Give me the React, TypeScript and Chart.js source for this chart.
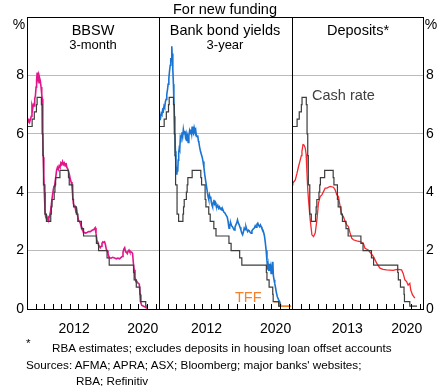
import React, { useEffect, useRef } from "react";
import { Chart, registerables } from "chart.js";

Chart.register(...registerables);

const FONT = "'Liberation Sans', Arial, Helvetica, sans-serif";

// ---- axes ----
const xMin = 2007.0;
const xMax = 2022.4;
const yTickValues = [0, 2, 4, 6, 8, 10];
const yearLabelsLeft = [2012, 2020];
const yearLabelsRight = [2013, 2020];

// ---- cash rate (step changes) ----
const cashDates = [2007.0, 2007.6, 2007.85, 2008.1, 2008.18, 2008.68, 2008.77, 2008.85, 2008.92, 2009.09, 2009.27, 2009.77, 2009.84, 2009.92, 2010.17, 2010.26, 2010.34, 2010.84, 2011.84, 2011.93, 2012.34, 2012.43, 2012.76, 2012.93, 2013.35, 2013.6, 2015.1, 2015.35, 2016.34, 2016.59, 2019.43, 2019.5, 2019.75, 2020.17, 2020.22, 2020.85, 2021.05];
const cashRates = [6.25, 6.5, 6.75, 7.0, 7.25, 7.0, 6.0, 5.25, 4.25, 3.25, 3.0, 3.25, 3.5, 3.75, 4.0, 4.25, 4.5, 4.75, 4.5, 4.25, 3.75, 3.5, 3.25, 3.0, 2.75, 2.5, 2.25, 2.0, 1.75, 1.5, 1.25, 1.0, 0.75, 0.5, 0.25, 0.1, 0.1];
const cashDepositsEnd: [number, number] = [2021.7, 0.1];

// ---- Term Funding Facility ----
const tffDates = [2020.3, 2020.95, 2022.3];
const tffRates = [0.25, 0.1, 0.1];

// ---- BBSW 3-month ----
const bbsw3m: [number, number][] = [
  [2007.0, 6.45], [2007.1, 6.42], [2007.2, 6.48], [2007.3, 6.4], [2007.4, 6.5], [2007.5, 6.6], [2007.58, 6.95], [2007.66, 6.85], [2007.74, 7.0], [2007.82, 6.95], [2007.9, 7.2], [2007.98, 7.3],
  [2008.06, 7.6], [2008.12, 7.85], [2008.19, 8.1], [2008.25, 7.9], [2008.32, 8.0], [2008.4, 7.75], [2008.48, 7.9], [2008.56, 7.8], [2008.64, 7.6], [2008.72, 7.35], [2008.78, 7.2], [2008.84, 6.0], [2008.9, 5.2], [2008.96, 4.6],
  [2009.02, 4.0], [2009.1, 3.4], [2009.17, 3.17], [2009.25, 3.1], [2009.35, 3.05], [2009.45, 3.15], [2009.55, 3.1], [2009.65, 3.2], [2009.75, 3.35], [2009.85, 3.6], [2009.95, 3.85],
  [2010.05, 4.05], [2010.15, 4.2], [2010.25, 4.3], [2010.35, 4.5], [2010.45, 4.75], [2010.55, 4.85], [2010.65, 4.78], [2010.75, 4.9], [2010.85, 4.85], [2010.95, 5.0],
  [2011.05, 4.95], [2011.15, 5.05], [2011.25, 4.95], [2011.35, 5.0], [2011.45, 4.9], [2011.55, 5.0], [2011.65, 4.85], [2011.75, 4.8], [2011.85, 4.7], [2011.95, 4.6],
  [2012.05, 4.45], [2012.15, 4.35], [2012.25, 4.2], [2012.35, 3.8], [2012.42, 3.6], [2012.5, 3.55], [2012.6, 3.5], [2012.7, 3.35], [2012.8, 3.4], [2012.9, 3.2],
  [2013.0, 3.05], [2013.1, 3.0], [2013.2, 2.95], [2013.3, 2.85], [2013.4, 2.8], [2013.5, 2.7], [2013.6, 2.6], [2013.7, 2.62], [2013.85, 2.6],
  [2014.0, 2.62], [2014.2, 2.65], [2014.4, 2.65], [2014.6, 2.7], [2014.8, 2.72], [2014.95, 2.78],
  [2015.05, 2.6], [2015.15, 2.35], [2015.25, 2.3], [2015.35, 2.18], [2015.45, 2.15], [2015.55, 2.1], [2015.65, 2.15], [2015.75, 2.25], [2015.85, 2.3], [2015.95, 2.28],
  [2016.05, 2.3], [2016.15, 2.2], [2016.25, 2.05], [2016.35, 2.0], [2016.45, 1.9], [2016.55, 1.8], [2016.65, 1.75], [2016.8, 1.74],
  [2017.0, 1.77], [2017.2, 1.75], [2017.4, 1.72], [2017.6, 1.74], [2017.8, 1.72], [2017.95, 1.76],
  [2018.1, 1.8], [2018.2, 1.95], [2018.3, 2.05], [2018.4, 2.1], [2018.5, 1.95], [2018.6, 1.95], [2018.7, 1.9], [2018.8, 1.98], [2018.9, 2.02],
  [2019.0, 1.95], [2019.1, 1.95], [2019.2, 1.95], [2019.32, 1.9], [2019.4, 1.6], [2019.5, 1.34], [2019.6, 1.1], [2019.7, 0.94], [2019.8, 0.95], [2019.9, 0.9],
  [2020.0, 0.88], [2020.1, 0.85], [2020.2, 0.5], [2020.29, 0.2], [2020.4, 0.12], [2020.55, 0.1], [2020.7, 0.08], [2020.9, 0.04], [2021.07, 0.02],
];

// ---- Bank bond yields 3-year ----
const bondYields3y: [number, number][] = [
  [2007.02, 6.5], [2007.1, 6.62], [2007.18, 6.55], [2007.26, 6.7], [2007.34, 6.66], [2007.42, 6.82], [2007.5, 6.78], [2007.58, 6.95], [2007.66, 6.9], [2007.74, 7.1], [2007.82, 7.18], [2007.9, 7.35], [2007.98, 7.5],
  [2008.06, 7.7], [2008.14, 7.9], [2008.22, 8.15], [2008.3, 8.35], [2008.36, 8.6], [2008.42, 8.5], [2008.46, 8.85], [2008.5, 9.0], [2008.54, 8.6], [2008.58, 8.75], [2008.62, 8.2], [2008.67, 7.7], [2008.72, 7.2], [2008.78, 6.6], [2008.84, 6.0], [2008.9, 5.4], [2008.96, 4.95],
  [2009.02, 4.7], [2009.07, 4.6], [2009.12, 4.85], [2009.17, 4.7], [2009.22, 5.1], [2009.28, 5.35], [2009.34, 5.5], [2009.4, 5.45], [2009.46, 5.8], [2009.52, 5.7], [2009.58, 5.95], [2009.66, 6.05], [2009.74, 5.9], [2009.82, 6.15], [2009.9, 6.0], [2009.98, 6.1],
  [2010.06, 5.9], [2010.14, 6.0], [2010.22, 5.75], [2010.3, 5.9], [2010.38, 5.7], [2010.46, 5.95], [2010.54, 6.1], [2010.62, 6.0], [2010.7, 6.15], [2010.78, 6.0], [2010.84, 6.25], [2010.92, 6.05],
  [2011.0, 6.0], [2011.08, 6.2], [2011.16, 6.1], [2011.24, 6.15], [2011.32, 5.95], [2011.4, 5.9], [2011.48, 5.95], [2011.56, 5.75], [2011.62, 5.7], [2011.7, 5.55], [2011.8, 5.4], [2011.9, 5.3],
  [2012.0, 5.2], [2012.1, 5.05], [2012.2, 4.85], [2012.3, 4.6], [2012.4, 4.4], [2012.5, 4.2], [2012.6, 4.0], [2012.68, 3.85], [2012.76, 3.75], [2012.84, 3.9], [2012.92, 3.8], [2012.98, 3.85],
  [2013.06, 3.65], [2013.14, 3.55], [2013.2, 3.5], [2013.28, 3.65], [2013.36, 3.74], [2013.44, 3.6], [2013.52, 3.65], [2013.6, 3.55], [2013.7, 3.5], [2013.8, 3.55], [2013.9, 3.45],
  [2014.0, 3.5], [2014.1, 3.42], [2014.2, 3.45], [2014.3, 3.38], [2014.4, 3.4], [2014.5, 3.32], [2014.6, 3.3], [2014.7, 3.25], [2014.8, 3.2], [2014.9, 3.15],
  [2015.0, 3.0], [2015.06, 2.85], [2015.11, 2.77], [2015.18, 2.85], [2015.25, 2.9], [2015.31, 2.94], [2015.4, 2.85], [2015.5, 2.82], [2015.6, 2.76], [2015.7, 2.71], [2015.8, 2.8], [2015.9, 2.88],
  [2016.0, 2.95], [2016.09, 3.05], [2016.18, 2.95], [2016.29, 2.88], [2016.38, 2.8], [2016.48, 2.71], [2016.58, 2.6], [2016.68, 2.54], [2016.78, 2.65], [2016.87, 2.77], [2016.96, 2.72],
  [2017.07, 2.82], [2017.17, 2.72], [2017.27, 2.65], [2017.36, 2.7], [2017.46, 2.68], [2017.56, 2.62], [2017.66, 2.6], [2017.76, 2.68], [2017.86, 2.72], [2017.95, 2.75],
  [2018.04, 2.77], [2018.14, 2.85], [2018.24, 2.8], [2018.34, 2.9], [2018.44, 2.94], [2018.54, 2.86], [2018.64, 2.82], [2018.74, 2.88], [2018.83, 2.82], [2018.92, 2.75],
  [2019.02, 2.71], [2019.12, 2.62], [2019.21, 2.5], [2019.3, 2.3], [2019.41, 2.0], [2019.5, 1.65], [2019.58, 1.35], [2019.64, 1.5], [2019.7, 1.3], [2019.78, 1.55], [2019.85, 1.3], [2019.92, 1.42], [2019.98, 1.22],
  [2020.05, 1.4], [2020.12, 1.3], [2020.18, 1.62], [2020.24, 1.15], [2020.32, 1.0], [2020.4, 0.88], [2020.47, 0.77], [2020.58, 0.58], [2020.7, 0.42], [2020.84, 0.32], [2020.97, 0.25], [2021.09, 0.14],
];

// ---- Deposit rates ----
const deposits: [number, number][] = [
  [2007.0, 4.25], [2007.1, 4.3], [2007.2, 4.35], [2007.39, 4.42], [2007.5, 4.55], [2007.59, 4.65], [2007.77, 4.88], [2007.97, 5.11],
  [2008.1, 5.25], [2008.17, 5.4], [2008.29, 5.63], [2008.38, 5.62], [2008.44, 5.6], [2008.56, 5.51], [2008.66, 5.3], [2008.76, 4.65], [2008.85, 4.1], [2008.94, 3.74],
  [2009.14, 3.05], [2009.34, 2.54], [2009.53, 2.48], [2009.73, 2.6], [2009.93, 3.05],
  [2010.11, 3.63], [2010.31, 3.85], [2010.51, 3.91], [2010.7, 4.02], [2010.9, 4.14],
  [2011.1, 4.14], [2011.48, 4.2], [2011.87, 4.17], [2012.07, 4.08], [2012.27, 3.91], [2012.46, 3.85], [2012.66, 3.51], [2012.85, 3.22],
  [2013.04, 3.17], [2013.24, 3.0], [2013.44, 2.88], [2013.63, 2.82], [2013.83, 2.6], [2014.03, 2.42], [2014.21, 2.37], [2014.6, 2.33],
  [2015.0, 2.31], [2015.38, 2.25], [2015.58, 2.08], [2015.97, 2.02], [2016.56, 1.8], [2016.95, 1.57], [2017.34, 1.4], [2017.7, 1.36],
  [2018.12, 1.34], [2018.5, 1.33], [2018.9, 1.32], [2019.2, 1.35], [2019.48, 1.36], [2019.88, 1.34],
  [2020.07, 1.22], [2020.27, 1.0], [2020.47, 0.94], [2020.65, 0.82], [2020.85, 0.88], [2020.96, 0.65], [2021.17, 0.48], [2021.44, 0.37],
];

const COLORS = {
  cash: "#3c3c3c",
  bbsw: "#e0168a",
  bond: "#1a75d2",
  deposits: "#f52a30",
  tff: "#f7812a",
  grid: "#bbbbbb",
};

const pairs = (arr: [number, number][]) => arr.map(([x, y]) => ({ x, y }));
const zipXY = (xs: number[], ys: number[]) => xs.map((x, i) => ({ x, y: ys[i] }));

const framePlugin = {
  id: "frame",
  afterDatasetsDraw(chart: any) {
    const { ctx, chartArea: a, scales } = chart;
    const xs = scales.x;
    ctx.save();
    ctx.strokeStyle = "#000";
    ctx.lineWidth = 1;
    ctx.beginPath();
    for (let yr = Math.ceil(xs.min); yr <= Math.floor(xs.max); yr++) {
      const px = Math.round(xs.getPixelForValue(yr)) + 0.5;
      ctx.moveTo(px, a.bottom);
      ctx.lineTo(px, a.bottom - 5);
    }
    ctx.stroke();
    ctx.strokeRect(Math.round(a.left) + 0.5, Math.round(a.top) + 0.5, Math.round(a.right - a.left), Math.round(a.bottom - a.top));
    ctx.restore();
  },
};

type Spec = {
  padLeft: number;
  padRight: number;
  yAxis: "left" | "right" | "none";
  labels: number[];
  datasets: any[];
};

function makeChart(canvas: HTMLCanvasElement, spec: Spec) {
  return new Chart(canvas, {
    type: "line",
    data: { datasets: spec.datasets },
    options: {
      responsive: false,
      animation: false,
      devicePixelRatio: 1,
      layout: { padding: { left: spec.padLeft, right: spec.padRight, top: 17, bottom: 0 } },
      plugins: { legend: { display: false }, tooltip: { enabled: false }, title: { display: false } },
      elements: { point: { radius: 0 }, line: { tension: 0 } },
      scales: {
        x: {
          type: "linear",
          min: xMin,
          max: xMax,
          position: "bottom",
          grid: { display: false },
          border: { display: false },
          afterBuildTicks: (s: any) => {
            s.ticks = spec.labels.map((y) => ({ value: y + 0.5 }));
          },
          afterFit: (s: any) => {
            s.height = 31;
          },
          ticks: {
            autoSkip: false,
            maxRotation: 0,
            padding: 4,
            color: "#000",
            font: { size: 14, family: FONT },
            callback: (v: any) => String(Math.round(Number(v) - 0.5)),
          },
        },
        y: {
          min: 0,
          max: 10,
          position: spec.yAxis === "right" ? "right" : "left",
          grid: { color: COLORS.grid, lineWidth: 1, drawTicks: false },
          border: { display: false },
          afterBuildTicks: (s: any) => {
            s.ticks = yTickValues.map((v) => ({ value: v }));
          },
          afterFit: (s: any) => {
            s.width = spec.yAxis === "none" ? 0 : spec.yAxis === "left" ? 27 : 17;
          },
          ticks: {
            display: spec.yAxis !== "none",
            padding: 3,
            color: "#000",
            font: { size: 14, family: FONT },
            callback: (v: any) => (Number(v) === 10 ? "" : String(v)),
          },
        },
      },
    } as any,
    plugins: [framePlugin],
  });
}

const cashDataset = (extra: { x: number; y: number }[] = []) => ({
  data: [...zipXY(cashDates, cashRates), ...extra],
  borderColor: COLORS.cash,
  borderWidth: 1.2,
  stepped: true,
  pointRadius: 0,
});

const Text = ({ x, y, size, color = "#000", align = "center", children }: any) => (
  <div
    style={{
      position: "absolute",
      left: x,
      top: y,
      transform: `translate(${align === "center" ? "-50%" : "0"}, -50%)`,
      fontSize: size,
      lineHeight: 1,
      color,
      whiteSpace: "nowrap",
      fontFamily: FONT,
    }}
  >
    {children}
  </div>
);

export default function App() {
  const r1 = useRef<HTMLCanvasElement>(null);
  const r2 = useRef<HTMLCanvasElement>(null);
  const r3 = useRef<HTMLCanvasElement>(null);

  useEffect(() => {
    const charts: Chart[] = [];
    if (r1.current)
      charts.push(
        makeChart(r1.current, {
          padLeft: 0,
          padRight: 281,
          yAxis: "left",
          labels: yearLabelsLeft,
          datasets: [
            cashDataset(),
            { data: pairs(bbsw3m), borderColor: COLORS.bbsw, borderWidth: 1.6, pointRadius: 0 },
          ],
        })
      );
    if (r2.current)
      charts.push(
        makeChart(r2.current, {
          padLeft: 159,
          padRight: 148,
          yAxis: "none",
          labels: yearLabelsLeft,
          datasets: [
            cashDataset(),
            { data: pairs(bondYields3y), borderColor: COLORS.bond, borderWidth: 1.6, pointRadius: 0 },
            { data: zipXY(tffDates, tffRates), borderColor: COLORS.tff, borderWidth: 1.6, stepped: true, pointRadius: 0 },
          ],
        })
      );
    if (r3.current)
      charts.push(
        makeChart(r3.current, {
          padLeft: 292,
          padRight: 0,
          yAxis: "right",
          labels: yearLabelsRight,
          datasets: [
            cashDataset([{ x: cashDepositsEnd[0], y: cashDepositsEnd[1] }]),
            { data: pairs(deposits), borderColor: COLORS.deposits, borderWidth: 1.3, pointRadius: 0 },
          ],
        })
      );
    return () => charts.forEach((c) => c.destroy());
  }, []);

  const cv = { position: "absolute" as const, left: 0, top: 0, width: 440, height: 340 };

  return (
    <div style={{ position: "absolute", left: 0, top: 0, width: 440, height: 386, background: "#fff", overflow: "hidden", fontFamily: FONT }}>
      <canvas ref={r1} width={440} height={340} style={cv} />
      <canvas ref={r2} width={440} height={340} style={cv} />
      <canvas ref={r3} width={440} height={340} style={cv} />

      <Text x={225} y={9} size={14.5}>For new funding</Text>
      <Text x={93} y={30} size={14.5}>BBSW</Text>
      <Text x={93} y={44} size={13}>3-month</Text>
      <Text x={225} y={30} size={14.5}>Bank bond yields</Text>
      <Text x={225} y={44} size={13}>3-year</Text>
      <Text x={358} y={30} size={14.5}>Deposits*</Text>

      <Text x={19} y={24} size={14}>%</Text>
      <Text x={431} y={24} size={14}>%</Text>

      <Text x={312} y={95} size={14.5} color="#404040" align="left">Cash rate</Text>
      <Text x={235} y={297} size={14.5} color={COLORS.tff} align="left">TFF</Text>

      <Text x={26} y={343} size={11.7} align="left">*</Text>
      <Text x={52} y={348} size={11.7} align="left">RBA estimates; excludes deposits in housing loan offset accounts</Text>
      <Text x={26} y={365} size={11.7} align="left">Sources: AFMA; APRA; ASX; Bloomberg; major banks' websites;</Text>
      <Text x={76} y={381} size={11.7} align="left">RBA; Refinitiv</Text>
    </div>
  );
}
